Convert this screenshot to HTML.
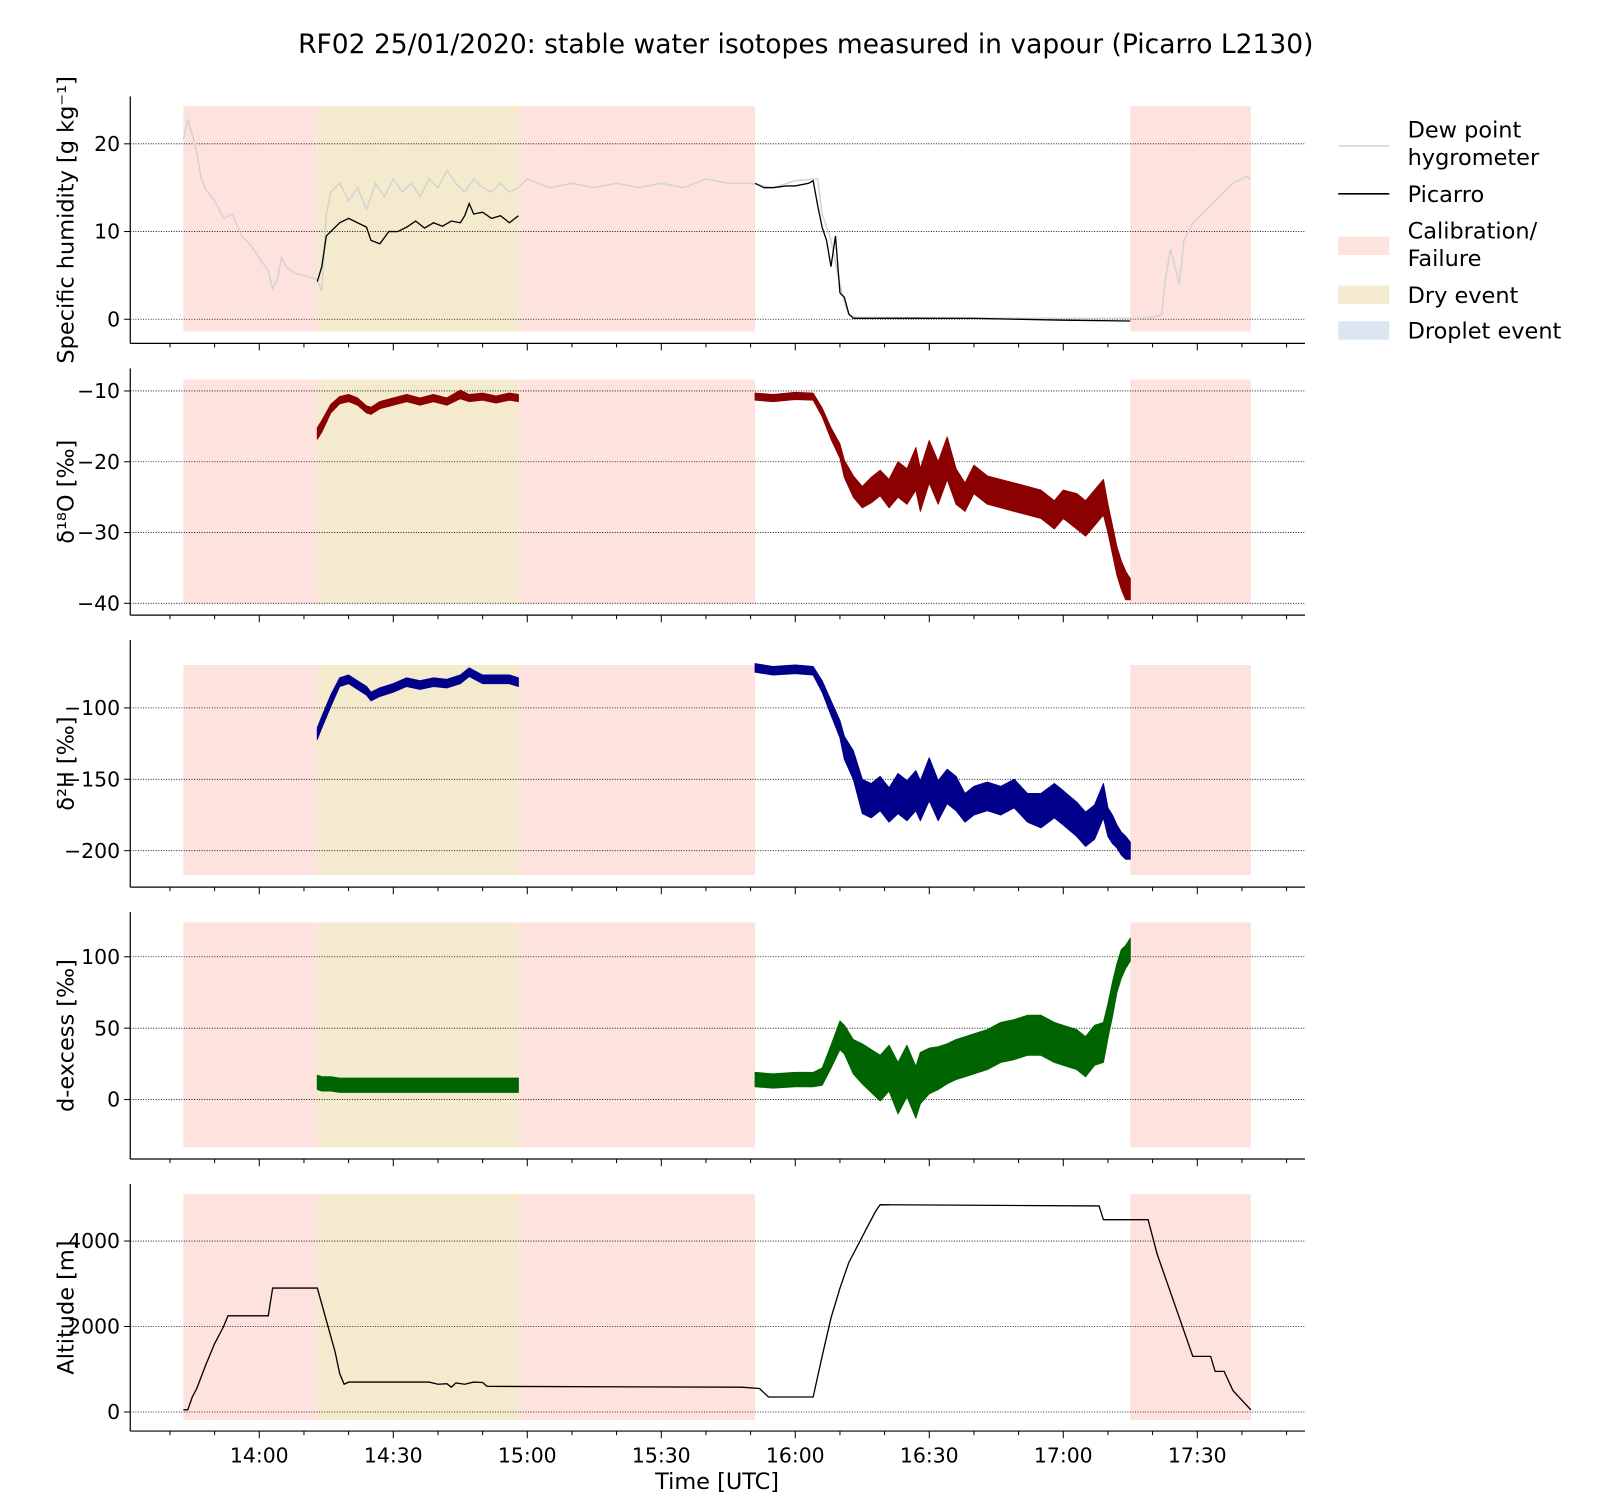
<!DOCTYPE html>
<html><head><meta charset="utf-8">
<style>
html,body{margin:0;padding:0;background:#fff;width:1600px;height:1500px;overflow:hidden;}
svg{display:block;}
svg text{font-family:"DejaVu Sans","Liberation Sans",sans-serif;fill:#000;}
</style></head>
<body>
<svg id="chart" width="1600" height="1500" xmlns="http://www.w3.org/2000/svg">
<g transform="scale(1.02)">
<text x="790" y="52" font-size="26" text-anchor="middle">RF02 25/01/2020: stable water isotopes measured in vapour (Picarro L2130)</text>
<g id="panels"></g>
<g id="legend">
 <line x1="1312" y1="143" x2="1362" y2="143" stroke="#d3d3d3" stroke-width="1.5"/>
 <text x="1380" y="135" font-size="22">Dew point</text>
 <text x="1380" y="162" font-size="22">hygrometer</text>
 <line x1="1312" y1="190" x2="1362" y2="190" stroke="#000" stroke-width="1.5"/>
 <text x="1380" y="198" font-size="22">Picarro</text>
 <rect x="1312" y="232" width="50" height="18" fill="#fde2de"/>
 <text x="1380" y="234" font-size="22">Calibration/</text>
 <text x="1380" y="261" font-size="22">Failure</text>
 <rect x="1312" y="280" width="50" height="18" fill="#f4eace"/>
 <text x="1380" y="297" font-size="22">Dry event</text>
 <rect x="1312" y="315" width="50" height="18" fill="#dbe6f1"/>
 <text x="1380" y="332" font-size="22">Droplet event</text>
</g>
</g>
</svg>
<script>
// ---- data (times in minutes after midnight UTC) ----
const xTickLabels=["14:00","14:30","15:00","15:30","16:00","16:30","17:00","17:30"];
const xTickTimes=[840,870,900,930,960,990,1020,1050];
const calibPeriods=[[823,853],[898,951],[1035,1062]];
const dryPeriods=[[853,898]];
const dewT=[823,824,825,826,827,828,830,832,834,836,838,840,842,843,844,845,846,848,850,852,853,854,855,856,858,860,862,864,866,868,870,872,874,876,878,880,882,884,886,888,890,892,894,896,898,900,905,910,915,920,925,930,935,940,945,950,955,960,965,966,968,970,971,972,974,980,1000,1020,1037,1040,1042,1043,1044,1046,1047,1049,1052,1055,1058,1061,1062];
const dewV=[20.5,22.8,21,19,16,14.8,13.5,11.5,12,9.5,8.5,7,5.5,3.5,4.5,7,6,5.2,5,4.7,4.5,3.2,12,14.5,15.5,13.5,15,12.5,15.5,14,16,14.5,15.5,14,16,15,17,15.5,14.5,16,15,14.5,15.5,14.5,15,16,15,15.5,15,15.5,15,15.5,15,16,15.5,15.5,15,15.8,16,12,9,4,2,0.5,0.2,0.2,0.1,0.1,0.1,0.2,0.5,5,8,4,9,11,12.5,14,15.5,16.3,16];
const picT=[853,854,855,856,858,860,862,864,865,867,869,871,873,875,877,879,881,883,885,886,887,888,890,892,894,896,898,null,951,953,955,958,960,963,964,965,966,967,968,969,970,971,972,973,980,1000,1020,1035];
const picV=[4.3,6,9.5,10,11,11.5,11,10.5,9,8.6,10,10,10.5,11.2,10.4,11,10.6,11.2,11,11.8,13.2,12,12.2,11.5,11.8,11,11.8,null,15.5,15,15,15.2,15.2,15.5,15.8,13,10.5,9,6,9.5,3,2.5,0.6,0.1,0.1,0.1,-0.1,-0.2];
const isoT=[853,854,856,858,860,862,864,865,867,870,873,876,879,882,885,887,890,893,896,898,null,951,955,960,964,966,968,970,971,973,975,977,979,981,983,985,987,988,990,992,994,996,998,1000,1003,1006,1009,1012,1015,1018,1020,1023,1025,1027,1029,1030,1031,1032,1033,1034,1035];
const d18O=[-16,-15,-12.5,-11.3,-11,-11.5,-12.6,-12.8,-12,-11.5,-11,-11.5,-11,-11.5,-10.5,-11,-10.8,-11.2,-10.8,-11,null,-10.8,-11,-10.7,-10.8,-13,-16,-18.5,-21,-23.5,-25,-24,-23,-24.5,-22.5,-23.5,-21,-24,-20,-23,-19.5,-23.5,-25,-22.5,-24,-24.5,-25,-25.5,-26,-27.5,-26,-27,-28,-26.5,-25,-28,-31,-34,-36,-37.5,-38];
const d18Ospread=[0.8,0.8,0.6,0.5,0.5,0.5,0.5,0.5,0.5,0.5,0.5,0.5,0.5,0.5,0.6,0.5,0.5,0.5,0.5,0.5,null,0.5,0.5,0.5,0.5,0.6,0.8,1,1.2,1.5,1.5,1.8,1.8,2,2.5,2.5,3,3,3,3,3,2.5,2,2,2,2,2,2,2,2,2,2.5,2.5,2.5,2.5,2,2,2,2,2,1.5];
const d2H=[-118,-110,-95,-82,-80,-84,-88,-92,-89,-86,-82,-84,-82,-83,-80,-75,-80,-80,-80,-82,null,-72,-74,-73,-74,-85,-100,-115,-128,-140,-162,-165,-160,-168,-160,-165,-158,-165,-150,-165,-155,-160,-170,-165,-162,-165,-160,-170,-172,-165,-170,-178,-185,-180,-165,-180,-185,-190,-195,-198,-200];
const d2Hspread=[4,4,4,3,3,3,3,3,3,3,3,3,3,3,3,3,3,3,3,3,null,3,3,3,3,4,5,6,8,10,12,12,12,12,14,14,14,14,15,14,12,12,10,10,10,10,10,10,12,12,12,12,12,12,12,10,10,8,8,8,6];
const dex=[12,11,11,10,10,10,10,10,10,10,10,10,10,10,10,10,10,10,10,10,null,14,13,14,14,16,30,45,42,30,25,20,15,22,8,20,5,15,20,22,25,28,30,32,35,40,42,45,45,40,38,35,30,38,40,55,70,85,95,100,105];
const dexSpread=[5,5,5,5,5,5,5,5,5,5,5,5,5,5,5,5,5,5,5,5,null,5,5,5,5,6,8,10,10,12,14,15,16,16,18,18,18,18,16,15,14,14,14,14,14,14,14,14,14,14,14,14,14,14,14,12,12,10,10,8,8];
const altT=[823,824,825,826,828,830,832,833,842,843,853,857,858,859,860,878,880,882,883,884,886,888,890,891,948,952,954,964,966,968,970,972,976,978,979,1028,1029,1039,1041,1046,1049,1053,1054,1056,1058,1062];
const altV=[50,50,350,550,1100,1600,2000,2250,2250,2900,2900,1400,900,650,700,700,650,660,580,680,650,700,690,600,580,550,350,350,1300,2200,2900,3500,4300,4700,4850,4820,4500,4500,3700,2200,1300,1300,950,950,500,50];

// ---- layout (design coords, scaled by 1.02) ----
const X0=127.7,X1=1279.4;
const xs=t=>254.2+(t-840)*4.379;
const panels=[
 {name:"specific-humidity",top:94.5,bot:336.6,v0:0,p0:313,v1:20,p1:141,ticks:[0,10,20],tl:["0","10","20"],shade:[-1.4,24.3],label:"Specific humidity [g kg\u207B\u00B9]"},
 {name:"d18o",top:361.1,bot:603.1,v0:-10,p0:383.3,v1:-40,p1:591.5,ticks:[-10,-20,-30,-40],tl:["\u221210","\u221220","\u221230","\u221240"],shade:[-8.4,-40],label:"\u03B4\u00B9\u2078O [\u2030]"},
 {name:"d2h",top:627.6,bot:869.7,v0:-100,p0:694,v1:-200,p1:834,ticks:[-100,-150,-200],tl:["\u2212100","\u2212150","\u2212200"],shade:[-70,-217],label:"\u03B4\u00B2H [\u2030]"},
 {name:"d-excess",top:894.2,bot:1136.3,v0:0,p0:1078,v1:100,p1:938,ticks:[0,50,100],tl:["0","50","100"],shade:[-33.5,124],label:"d-excess [\u2030]"},
 {name:"altitude",top:1160.8,bot:1403,v0:0,p0:1384.3,v1:4000,p1:1216.7,ticks:[0,2000,4000],tl:["0","2000","4000"],shade:[-190,5100],label:"Altitude [m]"}
];
const NS="http://www.w3.org/2000/svg";
const root=document.getElementById("panels");
function mk(tag,attrs,parent){const e=document.createElementNS(NS,tag);for(const k in attrs)e.setAttribute(k,attrs[k]);(parent||root).appendChild(e);return e;}
function linePath(T,V,ys){let d="",pen=false;for(let i=0;i<T.length;i++){if(T[i]===null||V[i]===null){pen=false;continue;}d+=(pen?"L":"M")+xs(T[i]).toFixed(1)+","+ys(V[i]).toFixed(1);pen=true;}return d;}
function bandPaths(T,V,S,ys){const segs=[];let cur=[];for(let i=0;i<T.length;i++){if(T[i]===null){if(cur.length)segs.push(cur);cur=[];continue;}cur.push(i);}if(cur.length)segs.push(cur);
 return segs.map(s=>{let d="";s.forEach((i,k)=>{d+=(k?"L":"M")+xs(T[i]).toFixed(1)+","+ys(V[i]+S[i]).toFixed(1);});for(let k=s.length-1;k>=0;k--){const i=s[k];d+="L"+xs(T[i]).toFixed(1)+","+ys(V[i]-S[i]).toFixed(1);}return d+"Z";});}

panels.forEach((p,pi)=>{
 const ys=v=>p.p0+(v-p.v0)*(p.p1-p.p0)/(p.v1-p.v0);
 p.ys=ys;
 const g=mk("g",{});
 
 
 const sy0=ys(p.shade[1]),sy1=ys(p.shade[0]);
 calibPeriods.forEach(c=>{const r=mk("rect",{x:xs(c[0]),y:Math.min(sy0,sy1),width:xs(c[1])-xs(c[0]),height:Math.abs(sy1-sy0),fill:"#fde2de"},g);
  
  });
 dryPeriods.forEach(c=>{const r=mk("rect",{x:xs(c[0]),y:Math.min(sy0,sy1),width:xs(c[1])-xs(c[0]),height:Math.abs(sy1-sy0),fill:"#f4eace"},g);
  
  });
 p.ticks.forEach((t,i)=>{const y=ys(t);
  mk("line",{x1:X0,x2:X1,y1:y,y2:y,stroke:"#000","stroke-width":0.8,"stroke-dasharray":"1,1.5"},g);
  mk("line",{x1:X0-6,x2:X0,y1:y,y2:y,stroke:"#000","stroke-width":1},g);
  const tx=mk("text",{x:X0-10,y:y+7,"font-size":20,"text-anchor":"end"},g);tx.textContent=p.tl[i];
  
  });
 mk("line",{x1:X0,x2:X0,y1:p.top,y2:p.bot,stroke:"#000","stroke-width":1.2},g);
 mk("line",{x1:X0,x2:X1,y1:p.bot,y2:p.bot,stroke:"#000","stroke-width":1.2},g);
 for(let t=820;t<=1090;t+=10){const x=xs(t);if(x<X0||x>X1)continue;const major=xTickTimes.includes(t);
  mk("line",{x1:x,x2:x,y1:p.bot,y2:p.bot+(major?7:4),stroke:"#000","stroke-width":1},g);}
 const cy=(p.top+p.bot)/2;
 const yl=mk("text",{x:72,y:cy,"font-size":22,"text-anchor":"middle",transform:`rotate(-90 72 ${cy})`},g);yl.textContent=p.label;
 
 
});
// series
const P=panels;
let e;
e=mk("path",{d:linePath(dewT,dewV,P[0].ys),fill:"none",stroke:"#d3d3d3","stroke-width":1.5});

e=mk("path",{d:linePath(picT,picV,P[0].ys),fill:"none",stroke:"#000","stroke-width":1.3});

[[d18O,d18Ospread,P[1],"#8b0000","d18o-line"],[d2H,d2Hspread,P[2],"#00008b","d2h-line"],[dex,dexSpread,P[3],"#006400","dexcess-line"]].forEach(([V,S,p,c,n])=>{
 bandPaths(isoT,V,S,p.ys).forEach(d=>{const b=mk("path",{d:d,fill:c,stroke:c,"stroke-width":1,"stroke-linejoin":"round"});
  });
 const l=mk("path",{d:linePath(isoT,V,p.ys),fill:"none",stroke:c,"stroke-width":1.5});
 
});
e=mk("path",{d:linePath(altT,altV,P[4].ys),fill:"none",stroke:"#000","stroke-width":1.3});

xTickTimes.forEach((t,i)=>{const tx=mk("text",{x:xs(t),y:1434,"font-size":20,"text-anchor":"middle"});tx.textContent=xTickLabels[i];
 });
e=mk("text",{x:703,y:1460,"font-size":22,"text-anchor":"middle"});e.textContent="Time [UTC]";

</script>
</body></html>
